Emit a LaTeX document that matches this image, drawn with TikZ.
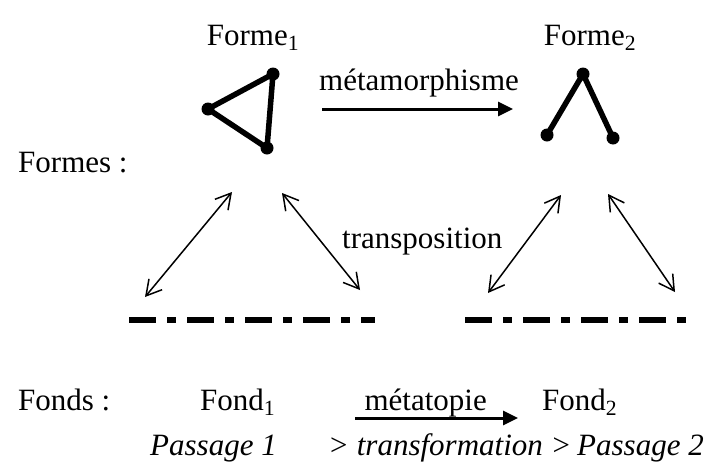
\documentclass[tikz,border=0pt]{standalone}
\usepackage{fontspec}
\setmainfont{Liberation Serif}
\usetikzlibrary{positioning}
\usetikzlibrary{calc}
\usetikzlibrary{arrows.meta}

\begin{document}
\begin{tikzpicture}[
    x=1pt, y=-1pt,
    % node styles
    lbl/.style = {
      inner sep=0pt,
      anchor=base,
      font=\fontsize{31}{37}\selectfont
    },
    ital/.style = {
      lbl,
      font=\fontsize{31}{37}\selectfont\itshape
    },
    dot/.style = {
      circle,
      fill=black,
      inner sep=0pt,
      minimum size=13pt
    },
    % line styles
    shapeline/.style = {line width=5.5pt, line join=round},
    bigarr/.style = {-{Triangle[length=15pt,width=14pt]}, line width=3pt},
    twoarr/.style = {{Straight Barb[length=15pt,width=17pt]}-{Straight Barb[length=15pt,width=17pt]}, line width=1.5pt},
    ground/.style = {line width=6pt, dash pattern=on 27pt off 11pt on 9pt off 11pt}
  ]
  \useasboundingbox (0,0) rectangle (712,469);

  % --- Labels
  \node[lbl] (forme1) at (253,45) {Forme\textsubscript{1}};
  \node[lbl] (forme2) at (590,45) {Forme\textsubscript{2}};
  \node[lbl] (metam) at (419,90) {métamorphisme};
  \node[lbl, anchor=base west] (formes) at (18,172) {Formes :};
  \node[lbl, anchor=base west] (transpo) at (342,248) {transposition};
  \node[lbl, anchor=base west] (fonds) at (18,410) {Fonds :};
  \node[lbl, anchor=base west] (fond1) at (200,410) {Fond\textsubscript{1}};
  \node[lbl, anchor=base east] (metat) at (487,410) {métatopie};
  \node[lbl, anchor=base west] (fond2) at (542,410) {Fond\textsubscript{2}};
  \node[ital, anchor=base west] (pass1) at (150,455) {Passage 1};
  \node[ital, anchor=base west] (transf) at (328,455) {> transformation >};
  \node[ital, anchor=base east] (pass2) at (704,455) {Passage 2};

  % --- Forme 1 (triangle)
  \node[dot] (tri-a) at (208,109) {};
  \node[dot] (tri-b) at (273,74) {};
  \node[dot] (tri-c) at (267,148) {};
  \draw[shapeline] (tri-a.center) -- (tri-b.center) -- (tri-c.center) -- cycle;

  % --- Forme 2 (lambda)
  \node[dot] (lam-a) at (547,135) {};
  \node[dot] (lam-b) at (583,74) {};
  \node[dot] (lam-c) at (613,138) {};
  \draw[shapeline] (lam-a.center) -- (lam-b.center) -- (lam-c.center);

  % --- Arrows
  \coordinate (meta-s) at (322,109);
  \coordinate (meta-e) at (513,109);
  \draw[bigarr] (meta-s) -- (meta-e);

  \coordinate (f1-up-l) at (232,192);
  \coordinate (f1-dn-l) at (145,297);
  \coordinate (f1-up-r) at (282,193);
  \coordinate (f1-dn-r) at (360,290);
  \coordinate (f2-up-l) at (561,195);
  \coordinate (f2-dn-l) at (488,293);
  \coordinate (f2-up-r) at (608,194);
  \coordinate (f2-dn-r) at (675,292);
  \draw[twoarr] (f1-up-l) -- (f1-dn-l);
  \draw[twoarr] (f1-up-r) -- (f1-dn-r);
  \draw[twoarr] (f2-up-l) -- (f2-dn-l);
  \draw[twoarr] (f2-up-r) -- (f2-dn-r);

  % --- Fonds (dash-dot grounds)
  \coordinate (g1-s) at (129,320);
  \coordinate (g1-e) at (375,320);
  \coordinate (g2-s) at (465,320);
  \coordinate (g2-e) at (688,320);
  \draw[ground] (g1-s) -- (g1-e);
  \draw[ground] (g2-s) -- (g2-e);

  \coordinate (mt-s) at (355,418);
  \coordinate (mt-e) at (518,418);
  \draw[bigarr] (mt-s) -- (mt-e);

\end{tikzpicture}
\end{document}
